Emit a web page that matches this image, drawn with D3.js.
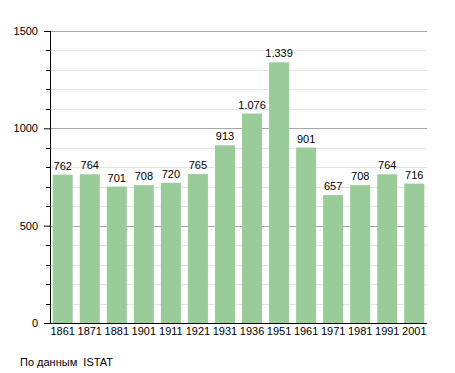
<!DOCTYPE html>
<html>
<head>
<meta charset="utf-8">
<script src="https://cdn.jsdelivr.net/npm/d3@7"></script>
<style>
body { margin: 0; background: #fff; }
text { font-family: "Liberation Sans", Arial, sans-serif; font-size: 11px; fill: #000; white-space: pre; }
</style>
</head>
<body>
<svg id="chart" width="455" height="373"></svg>
<script>
// population by census year
var years = ["1861","1871","1881","1901","1911","1921","1931","1936","1951","1961","1971","1981","1991","2001"];
var population = [762, 764, 701, 708, 720, 765, 913, 1076, 1339, 901, 657, 708, 764, 716];
var majorTicks = [0, 500, 1000, 1500];
var source = "По данным  ISTAT";

var svg = d3.select("#chart");
var mLeft = 50, mRight = 427, mTop = 31, mBottom = 323;

var x = d3.scaleBand().domain(years).range([mLeft, mRight]).paddingInner(0.26).paddingOuter(0.1);
var y = d3.scaleLinear().domain([0, 1500]).range([mBottom, mTop]);

var fmt = function(v){ return d3.format(",")(v).replace(",", "."); };

// minor grid lines
var minor = d3.range(100, 1500, 100).filter(function(v){ return v % 500 != 0; });
svg.selectAll(".minor").data(minor).enter().append("line")
  .attr("x1", mLeft).attr("x2", mRight)
  .attr("y1", function(d){ return Math.round(y(d)) + 0.5; }).attr("y2", function(d){ return Math.round(y(d)) + 0.5; })
  .style("stroke", "#e4e4e4");
svg.selectAll(".minortick").data(minor).enter().append("line")
  .attr("x1", mLeft - 4).attr("x2", mLeft)
  .attr("y1", function(d){ return Math.round(y(d)) + 0.5; }).attr("y2", function(d){ return Math.round(y(d)) + 0.5; })
  .style("stroke", "#000");

// major grid lines
svg.selectAll(".major").data(majorTicks.slice(1)).enter().append("line")
  .attr("x1", mLeft).attr("x2", mRight)
  .attr("y1", function(d){ return Math.round(y(d)) + 0.5; }).attr("y2", function(d){ return Math.round(y(d)) + 0.5; })
  .style("stroke", "#a8a8a8");

// bars
svg.selectAll(".bar").data(population).enter().append("rect")
  .attr("x", function(d,i){ return x(years[i]); })
  .attr("y", function(d){ return y(d); })
  .attr("width", x.bandwidth())
  .attr("height", function(d){ return mBottom - y(d); })
  .style("fill", "#99cc99");

// value labels
svg.selectAll(".val").data(population).enter().append("text")
  .attr("x", function(d,i){ return x(years[i]) + x.bandwidth()/2; })
  .attr("y", function(d){ return y(d) - 5; })
  .attr("text-anchor", "middle")
  .text(function(d){ return fmt(d); });

// y axis
var yAxis = d3.axisLeft(y).tickValues(majorTicks).tickFormat(d3.format("d")).tickSize(6).tickPadding(6);
var gy = svg.append("g").attr("transform", "translate(" + mLeft + ",0)").call(yAxis);
gy.select(".domain").remove();
gy.selectAll("text").style("font-size", "11px").attr("font-family", null);
gy.selectAll("line").style("stroke", "#000");
svg.append("line").attr("x1", mLeft + 0.5).attr("x2", mLeft + 0.5).attr("y1", mTop).attr("y2", mBottom)
  .style("stroke", "#000");

// x axis
var xAxis = d3.axisBottom(x).tickSize(0).tickPadding(4);
var gx = svg.append("g").attr("transform", "translate(0," + mBottom + ")").call(xAxis);
gx.select(".domain").remove();
gx.selectAll("text").style("font-size", "11px").attr("font-family", null);
svg.append("line").attr("x1", mLeft - 6).attr("x2", mRight).attr("y1", mBottom + 0.5).attr("y2", mBottom + 0.5)
  .style("stroke", "#000");

svg.append("text").attr("x", 20).attr("y", 366).text(source);
</script>
</body>
</html>
